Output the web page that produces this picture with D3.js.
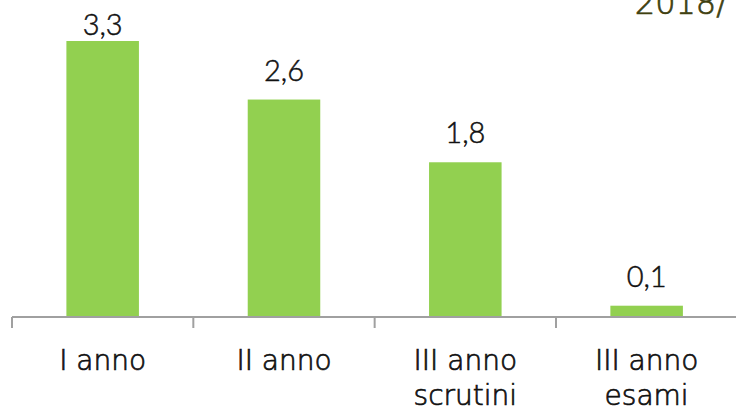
<!DOCTYPE html>
<html><head><meta charset="utf-8">
<script src="https://cdn.jsdelivr.net/npm/d3@7"></script>
<style>html,body{margin:0;padding:0;background:#fff;overflow:hidden}</style>
</head><body>
<svg id="c" width="736" height="412"></svg>
<script>
const categories = [["I anno"], ["II anno"], ["III anno", "scrutini"], ["III anno", "esami"]];
const values = [3.3, 2.6, 1.85, 0.135];
const valueLabels = ["3,3", "2,6", "1,8", "0,1"];
const titleText = "2018/";

const svg = d3.select("#c");
const font = "Lato, 'Noto Sans', sans-serif";
const font2 = "'DejaVu Sans', sans-serif";
const x = d3.scaleBand().domain(d3.range(categories.length)).range([12, 737.3]).paddingInner(0.6).paddingOuter(0.3);
const y = d3.scaleLinear().domain([0, 3.3]).range([317, 41]);

svg.selectAll("rect.bar").data(values).join("rect")
  .attr("x", (d,i) => x(i)).attr("width", x.bandwidth())
  .attr("y", d => y(d)).attr("height", d => y(0) - y(d))
  .attr("fill", "#92d050");

svg.selectAll("text.val").data(values).join("text")
  .attr("x", (d,i) => x(i) + x.bandwidth()/2).attr("y", d => Math.max(y(d) - 19, 35))
  .attr("text-anchor", "middle").attr("font-family", font).attr("font-size", 29).attr("font-weight", 300)
  .attr("stroke", "#111").attr("stroke-width", 0.5)
  .attr("fill", "#111").text((d,i) => valueLabels[i]);

// axis
const step = x.step();
const edges = d3.range(categories.length + 1).map(i => 12 + i * step);
svg.append("line").attr("x1", 12).attr("x2", 736).attr("y1", 317).attr("y2", 317)
  .attr("stroke", "#a0a0a0").attr("stroke-width", 2);
svg.selectAll("line.tick").data(edges).join("line")
  .attr("x1", d => d).attr("x2", d => d).attr("y1", 317).attr("y2", 328)
  .attr("stroke", "#a0a0a0").attr("stroke-width", 2);

const cat = svg.selectAll("text.cat").data(categories).join("text")
  .attr("text-anchor", "middle").attr("font-family", font2).attr("font-size", 28).attr("font-weight", 300)
  .attr("stroke", "#111").attr("stroke-width", 0.7).attr("fill", "#111");
cat.each(function(lines, i) {
  d3.select(this).selectAll("tspan").data(lines).join("tspan")
    .attr("x", x(i) + x.bandwidth()/2).attr("y", (l, j) => 370 + j * 35).text(l => l);
});

svg.append("text").attr("x", 727).attr("y", 14).attr("text-anchor", "end")
  .attr("font-family", font2).attr("font-size", 32).attr("font-weight", 300)
  .attr("stroke", "#404010").attr("stroke-width", 0.7).attr("fill", "#404010").text(titleText);
</script>
</body></html>
